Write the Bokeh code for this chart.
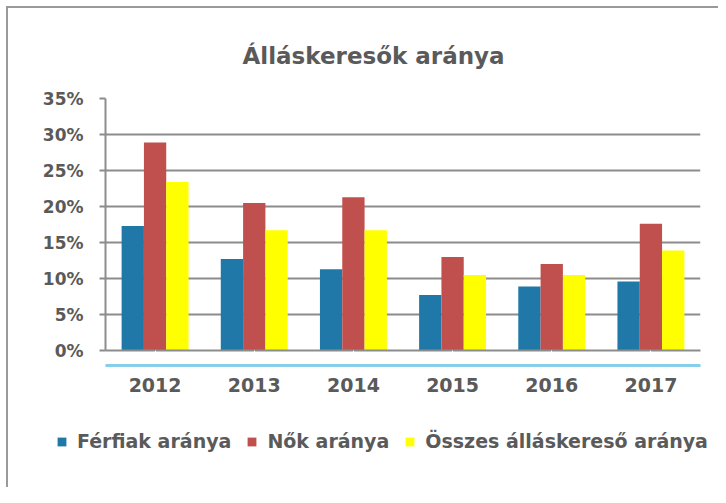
from bokeh.plotting import figure
from bokeh.layouts import column
from bokeh.models import (ColumnDataSource, FactorRange, Legend, LegendItem,
                          NumeralTickFormatter, FixedTicker, Range1d, CategoricalAxis,
                          CustomJSTickFormatter)
from bokeh.transform import dodge
from bokeh.embed import file_html
from bokeh.resources import INLINE

years = ["2012", "2013", "2014", "2015", "2016", "2017"]
ferfiak = [0.173, 0.127, 0.113, 0.077, 0.089, 0.096]
nok = [0.289, 0.205, 0.213, 0.130, 0.120, 0.176]
osszes = [0.234, 0.167, 0.167, 0.105, 0.105, 0.139]
series_names = ["Férfiak aránya", "Nők aránya", "Összes álláskereső aránya"]
colors = ["#1F78A8", "#C0504D", "#FFFF00"]
y_ticks = [0, 0.05, 0.10, 0.15, 0.20, 0.25, 0.30, 0.35]

FONT = "DejaVu Sans"
GRAY = "#5a5a5a"
LINE = "#8c8c8c"

src = ColumnDataSource(dict(year=years, f=ferfiak, n=nok, o=osszes))

p = figure(x_range=FactorRange(*years), y_range=Range1d(0, 0.35),
           frame_width=595, frame_height=252, output_backend="svg",
           toolbar_location=None, x_axis_location=None,
           min_border_left=97, min_border_right=18, min_border_top=90,
           min_border_bottom=70, title="Álláskeresők aránya")

bw = 0.225
r1 = p.vbar(x=dodge("year", -bw, range=p.x_range), top="f", width=bw, source=src,
            color=colors[0], line_color=None)
r2 = p.vbar(x=dodge("year", 0, range=p.x_range), top="n", width=bw, source=src,
            color=colors[1], line_color=None)
r3 = p.vbar(x=dodge("year", bw, range=p.x_range), top="o", width=bw, source=src,
            color=colors[2], line_color=None)

p.title.text_font = FONT
p.title.text_font_size = "23px"
p.title.text_font_style = "bold"
p.title.text_color = GRAY
p.title.align = "left"
p.title.offset = 137
p.title.standoff = 59

p.outline_line_color = None
p.background_fill_color = "white"
p.border_fill_color = "white"

p.yaxis.ticker = FixedTicker(ticks=y_ticks)
p.yaxis.formatter = NumeralTickFormatter(format="0%")
p.yaxis.major_label_text_font = FONT
p.yaxis.major_label_text_font_style = "bold"
p.yaxis.major_label_text_font_size = "17px"
p.yaxis.major_label_text_color = GRAY
p.yaxis.axis_line_color = LINE
p.yaxis.axis_line_width = 2
p.yaxis.major_tick_line_color = LINE
p.yaxis.major_tick_line_width = 2
p.yaxis.major_tick_in = 0
p.yaxis.major_tick_out = 6
p.yaxis.minor_tick_line_color = None
p.yaxis.major_label_standoff = 16

# axis line at the frame (no labels), then the scan line carrying the labels
ax1 = CategoricalAxis(axis_line_color=LINE, axis_line_width=2,
                      major_tick_line_color="white", major_tick_line_width=1,
                      major_tick_in=0, major_tick_out=15,
                      formatter=CustomJSTickFormatter(code="return ''"),
                      major_label_standoff=10, minor_tick_line_color=None)
p.add_layout(ax1, "below")
ax2 = CategoricalAxis(axis_line_color="#87CEEB", axis_line_width=3,
                      major_tick_line_color=None, major_tick_out=0,
                      major_label_text_font=FONT, major_label_text_font_style="bold",
                      major_label_text_font_size="19px", major_label_text_color=GRAY,
                      major_label_standoff=12)
p.add_layout(ax2, "below")

p.xgrid.grid_line_color = None
p.ygrid.ticker = FixedTicker(ticks=y_ticks)
p.ygrid.grid_line_color = LINE
p.ygrid.grid_line_width = 2

# legend strip below the chart (its bars lie outside its visible range)
p2 = figure(x_range=FactorRange(*years), y_range=Range1d(10, 11),
            frame_width=710, frame_height=67, output_backend="svg",
            toolbar_location=None, x_axis_location=None, y_axis_location=None,
            min_border=0)
p2.outline_line_color = None
p2.grid.grid_line_color = None
l1 = p2.vbar(x="year", top="f", width=bw, source=src, color=colors[0], line_color=None)
l2 = p2.vbar(x="year", top="n", width=bw, source=src, color=colors[1], line_color=None)
l3 = p2.vbar(x="year", top="o", width=bw, source=src, color=colors[2], line_color=None)
legend = Legend(items=[LegendItem(label=series_names[0], renderers=[l1]),
                       LegendItem(label=series_names[1], renderers=[l2]),
                       LegendItem(label=series_names[2], renderers=[l3])],
                orientation="horizontal", location=(48, 35),
                label_text_font=FONT, label_text_font_style="bold",
                label_text_font_size="19px", label_text_color=GRAY,
                glyph_width=11, glyph_height=11, spacing=15, label_standoff=10,
                border_line_color=None, background_fill_alpha=0,
                margin=0, padding=0)
p2.add_layout(legend, "center")

layout = column(p, p2, spacing=0)
layout.styles = {"margin-left": "6px", "margin-top": "6px",
                 "border-left": "2px solid #9a9a9a", "border-top": "2px solid #9a9a9a"}

open("out.html", "w").write(file_html(layout, INLINE))
